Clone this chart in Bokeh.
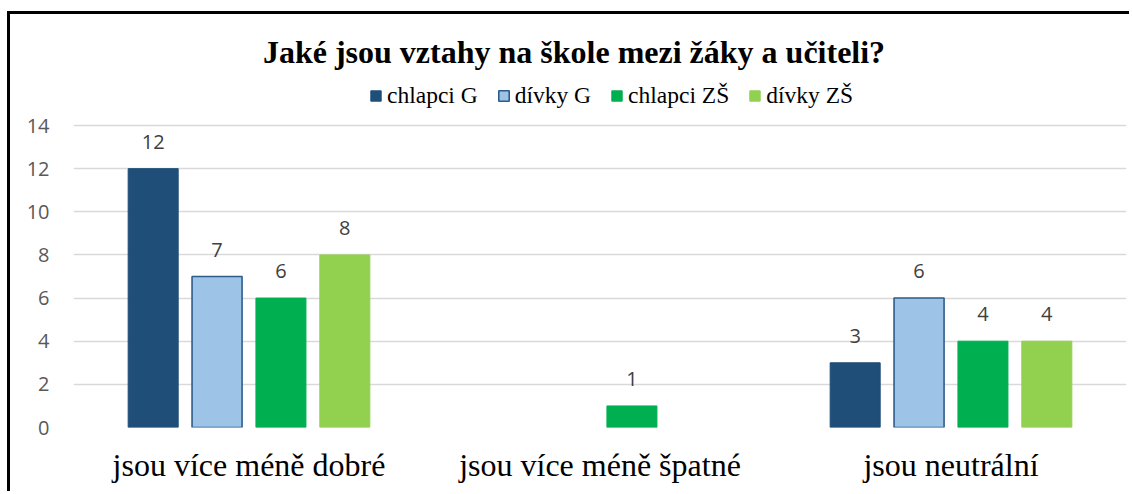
from bokeh.plotting import figure
from bokeh.models import ColumnDataSource, FactorRange, Range1d, FixedTicker, Legend, LegendItem, Label
from bokeh.transform import dodge
from bokeh.core.properties import value
from bokeh.embed import file_html
from bokeh.resources import INLINE

# ---- data ----
categories = ["jsou více méně dobré", "jsou více méně špatné", "jsou neutrální"]
series_names = ["chlapci G", "dívky G", "chlapci ZŠ", "dívky ZŠ"]
chlapci_G = [12, 0, 3]
divky_G = [7, 0, 6]
chlapci_ZS = [6, 1, 4]
divky_ZS = [8, 0, 4]
y_ticks = [0, 2, 4, 6, 8, 10, 12, 14]
title_text = "Jaké jsou vztahy na škole mezi žáky a učiteli?"

series_values = [chlapci_G, divky_G, chlapci_ZS, divky_ZS]
fill_colors = ["#1F4E79", "#9DC3E6", "#00B050", "#92D050"]
line_colors = ["#1F4E79", "#2E5C8A", "#00B050", "#92D050"]
line_widths = [1, 1.6, 1, 1]
offsets = [-0.273, -0.091, 0.091, 0.273]
bar_width = 0.1425

# plot area extends up to hold the title and legend (ticks/grid stop at 14)
p = figure(
    x_range=FactorRange(factors=categories),
    y_range=Range1d(0, 19.146),
    width=1122, height=480,
    output_backend="svg", toolbar_location=None,
    min_border_left=63, min_border_right=6, min_border_top=0, min_border_bottom=67,
)
p.title.visible = False
p.styles = {"margin-left": "7px", "margin-top": "11px",
            "border-left": "3px solid black", "border-top": "3px solid black"}

items = []
for name, vals, fc, lc, lw, off in zip(series_names, series_values, fill_colors, line_colors, line_widths, offsets):
    cats = [c for c, v in zip(categories, vals) if v > 0]
    vs = [v for v in vals if v > 0]
    src = ColumnDataSource(dict(cat=cats, val=vs, label=[str(v) for v in vs]))
    r = p.vbar(x=dodge("cat", off, range=p.x_range), top="val", width=bar_width, source=src,
               fill_color=fc, line_color=lc, line_width=lw)
    p.text(x=dodge("cat", off, range=p.x_range), y="val", text="label", source=src,
           y_offset=-27, text_align="center", text_baseline="alphabetic",
           text_font=value("Open Sans"), text_font_size="20px", text_color="#404040")
    items.append(LegendItem(label=name, renderers=[r]))

legend = Legend(items=items, orientation="horizontal", location=(296, 318),
                label_text_font="Liberation Serif", label_text_font_size="23.5px", label_text_color="#000000",
                label_height=24, glyph_width=13, glyph_height=13, label_standoff=5, spacing=19,
                padding=0, margin=0, border_line_color=None, background_fill_alpha=0)
p.add_layout(legend)

p.add_layout(Label(x=1.426, y=17.43, text=title_text, text_align="center", text_baseline="alphabetic",
                   text_font="Liberation Serif", text_font_style="bold", text_font_size="32px",
                   text_color="#000000"))

p.yaxis.ticker = FixedTicker(ticks=y_ticks)
p.yaxis.axis_line_color = None
p.yaxis.major_tick_line_color = None
p.yaxis.minor_tick_line_color = None
p.yaxis.major_label_text_font = "Open Sans"
p.yaxis.major_label_text_font_size = "20px"
p.yaxis.major_label_text_color = "#595959"
p.yaxis.major_label_standoff = 18

p.xaxis.axis_line_color = None
p.xaxis.major_tick_line_color = None
p.xaxis.major_label_text_font = "Liberation Serif"
p.xaxis.major_label_text_font_size = "32px"
p.xaxis.major_label_text_color = "#000000"
p.xaxis.major_label_standoff = 13

p.xgrid.grid_line_color = None
p.ygrid.grid_line_color = "#D9D9D9"
p.ygrid.grid_line_width = 1.5
p.outline_line_color = None

open("out.html", "w").write(file_html(p, INLINE))
